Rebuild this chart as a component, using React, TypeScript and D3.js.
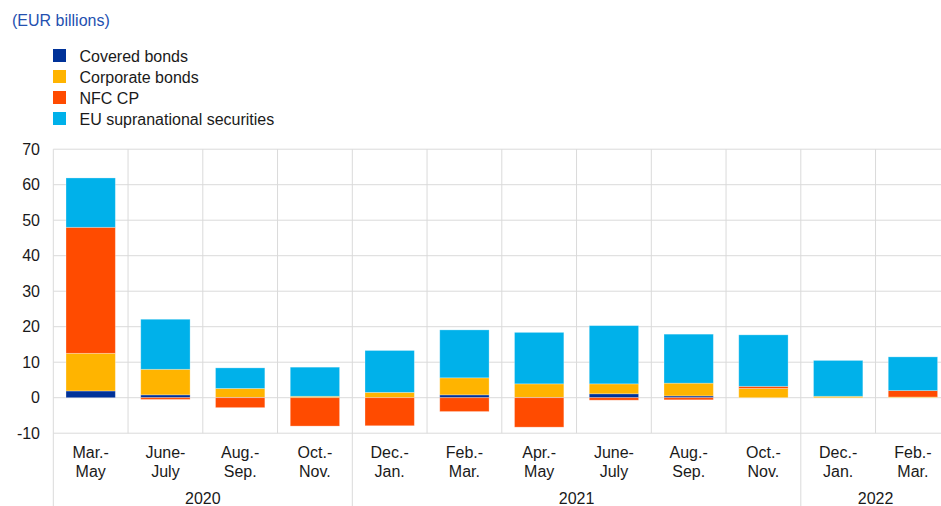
import React from "react";
import * as d3 from "d3";

const categories: string[][] = [
  ["Mar.-", "May"], ["June-", "July"], ["Aug.-", "Sep."], ["Oct.-", "Nov."],
  ["Dec.-", "Jan."], ["Feb.-", "Mar."], ["Apr.-", "May"], ["June-", "July"],
  ["Aug.-", "Sep."], ["Oct.-", "Nov."], ["Dec.-", "Jan."], ["Feb.-", "Mar."],
];
const years = [
  { label: "2020", start: 0, end: 4 },
  { label: "2021", start: 4, end: 10 },
  { label: "2022", start: 10, end: 12 },
];
const seriesNames = ["Covered bonds", "Corporate bonds", "NFC CP", "EU supranational securities"];
const coveredBonds = [1.9, 0.8, 0.1, 0.0, 0.0, 0.8, 0.1, 1.1, 0.5, 0.0, 0.0, 0.0];
const corporateBonds = [10.6, 7.2, 2.5, 0.4, 1.5, 4.8, 3.8, 2.8, 3.6, 2.6, 0.4, 0.2];
const nfcCP = [35.5, -0.5, -2.8, -8.0, -7.9, -3.9, -8.3, -0.7, -0.6, 0.6, 0.0, 1.8];
const euSupranational = [13.9, 14.1, 5.8, 8.2, 11.8, 13.5, 14.5, 16.4, 13.8, 14.5, 10.1, 9.5];
const yTicks = [70, 60, 50, 40, 30, 20, 10, 0, -10];
const colors = ["#003299", "#FFB400", "#FF4B00", "#00B1EA"];

const W = 941;
const H = 506;
const FONT = "'Liberation Sans', Arial, sans-serif";
const FS = 16;

export default function App() {
  const series = [coveredBonds, corporateBonds, nfcCP, euSupranational];
  const rows = categories.map((_, i) => {
    const r: Record<string, number> = { idx: i };
    seriesNames.forEach((n, k) => (r[n] = series[k][i]));
    return r;
  });
  const stacked = d3.stack<Record<string, number>>().keys(seriesNames).offset(d3.stackOffsetDiverging)(rows);

  const x = d3.scaleBand<number>().domain(categories.map((_, i) => i)).range([53.3, 950.3]).paddingInner(0.34).paddingOuter(0.17);
  const step = x.step();
  const x0 = 53.3;
  const y = d3.scaleLinear().domain([-10, 70]).range([433.2, 149.2]);
  const yearBounds = years.map((yr) => yr.start);

  return (
    <svg width={W} height={H} style={{ position: "absolute", left: 0, top: 0, background: "#fff" }} fontFamily={FONT}>
      <text x={12} y={25.5} fontSize={FS} fill="#2450b0">(EUR billions)</text>
      {seriesNames.map((n, k) => (
        <g key={n}>
          <rect x={53} y={49 + k * 21} width={13} height={13} fill={colors[k]} />
          <text x={79.5} y={61.5 + k * 21} fontSize={FS} fill="#1a1a1a">{n}</text>
        </g>
      ))}
      {yTicks.map((t) => (
        <g key={t}>
          <line x1={x0} x2={W} y1={y(t)} y2={y(t)} stroke="#dadada" strokeWidth={1} />
          <text x={40} y={y(t) + 5.5} fontSize={FS} textAnchor="end" fill="#1a1a1a">{t}</text>
        </g>
      ))}
      {d3.range(0, 13).map((i) => {
        const xx = x0 + i * step;
        const isYear = yearBounds.includes(i);
        return <line key={i} x1={xx} x2={xx} y1={y(70)} y2={isYear ? H : y(-10)} stroke="#dadada" strokeWidth={1} />;
      })}
      {stacked.map((s, k) => (
        <g key={s.key}>
          {s.map((d, i) => {
            const top = y(Math.max(d[0], d[1]));
            const bot = y(Math.min(d[0], d[1]));
            if (bot - top <= 0) return null;
            return (
              <rect key={i} x={x(i)} y={top} width={x.bandwidth()} height={bot - top}
                fill={colors[k]} stroke="rgba(255,255,255,0.35)" strokeWidth={0.8} />
            );
          })}
        </g>
      ))}
      {categories.map((c, i) => (
        <text key={i} x={x0 + (i + 0.5) * step} y={458} fontSize={FS} textAnchor="middle" fill="#1a1a1a">
          <tspan x={x0 + (i + 0.5) * step} y={458}>{c[0]}</tspan>
          <tspan x={x0 + (i + 0.5) * step} y={477}>{c[1]}</tspan>
        </text>
      ))}
      {years.map((yr) => (
        <text key={yr.label} x={x0 + ((yr.start + yr.end) / 2) * step} y={504} fontSize={FS} textAnchor="middle" fill="#1a1a1a">
          {yr.label}
        </text>
      ))}
    </svg>
  );
}
